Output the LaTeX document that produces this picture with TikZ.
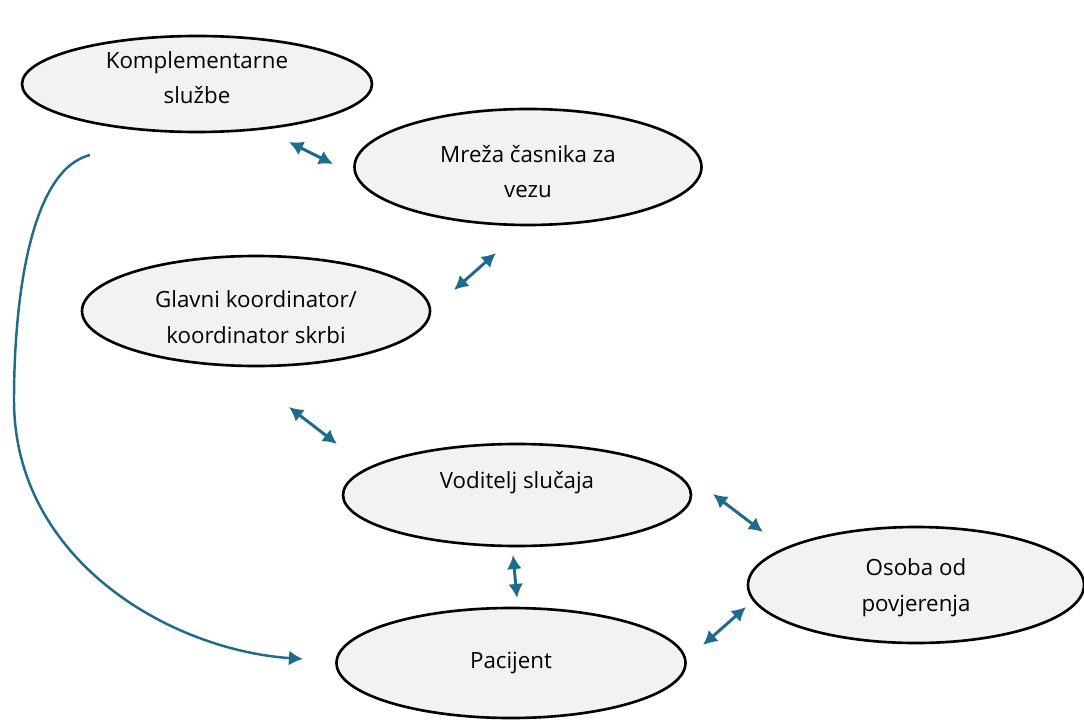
\documentclass[tikz,border=0pt]{standalone}
\usepackage{fontspec}
\setmainfont{Open Sans}
\usetikzlibrary{shapes.geometric,arrows.meta}

\definecolor{vezablue}{HTML}{1F6B8C}
\definecolor{ulogafill}{HTML}{F2F2F2}

\tikzset{
    uloga/.style={ellipse,draw=black,line width=1.5pt,fill=ulogafill,
        inner sep=0pt,align=center,text=black,
        font=\fontsize{12.7}{20.3}\selectfont},
    veza/.style={vezablue,line width=1.7pt,{Latex[length=8pt,width=8.5pt]}-{Latex[length=8pt,width=8.5pt]}},
    tok/.style={vezablue,line width=1.4pt,-{Latex[length=8pt,width=8.5pt]}}
}

\begin{document}
\begin{tikzpicture}[x=0.2mm,y=-0.2mm]
        \useasboundingbox (0,0) rectangle (1084,720);

        % uloge
        \node[uloga,minimum width=70mm,minimum height=19.2mm,text depth=7.4pt] (kompl) at (197,84){Komplementarne\\službe};
        \node[uloga,minimum width=69.4mm,minimum height=23.2mm] (mreza) at (528,167){\rule{0pt}{15pt}Mreža časnika za\\vezu};
        \node[uloga,minimum width=69.6mm,minimum height=22mm] (glavni) at (256,311){\rule{0pt}{17pt}Glavni koordinator/\\koordinator skrbi};
        \node[uloga,minimum width=69.6mm,minimum height=20.4mm,text depth=16.6pt] (voditelj) at (517,495){Voditelj slučaja};
        \node[uloga,minimum width=67.2mm,minimum height=23.2mm,text depth=-1.6pt] (osoba) at (916,585){Osoba od\\povjerenja};
        \node[uloga,minimum width=69.8mm,minimum height=22mm] (pacijent) at (511,663){Pacijent};

        % krajevi strelica
        \coordinate (a1) at (289,142);   \coordinate (b1) at (333,164);
        \coordinate (a2) at (454,290);   \coordinate (b2) at (496,253);
        \coordinate (a3) at (289,407);   \coordinate (b3) at (337,444);
        \coordinate (a4) at (513,555);   \coordinate (b4) at (517,598);
        \coordinate (a5) at (713,494);   \coordinate (b5) at (763,532);
        \coordinate (a6) at (703,645);   \coordinate (b6) at (746,607);
        \coordinate (luk0) at (90,155);  \coordinate (luk1) at (303,659);

        \draw[veza] (a1) -- (b1);%kompl - mreza
        \draw[veza] (a2) -- (b2);%mreza - glavni
        \draw[veza] (a3) -- (b3);%glavni - voditelj
        \draw[veza] (a4) -- (b4);%voditelj - pacijent
        \draw[veza] (a5) -- (b5);%voditelj - osoba
        \draw[veza] (a6) -- (b6);%pacijent - osoba

        % luk od komplementarnih sluzbi do pacijenta
        \draw[tok] (luk0) .. controls (30,170) and (14,300) .. (14,400)
                   .. controls (14,560) and (170,650) .. (luk1);

\end{tikzpicture}
\end{document}
